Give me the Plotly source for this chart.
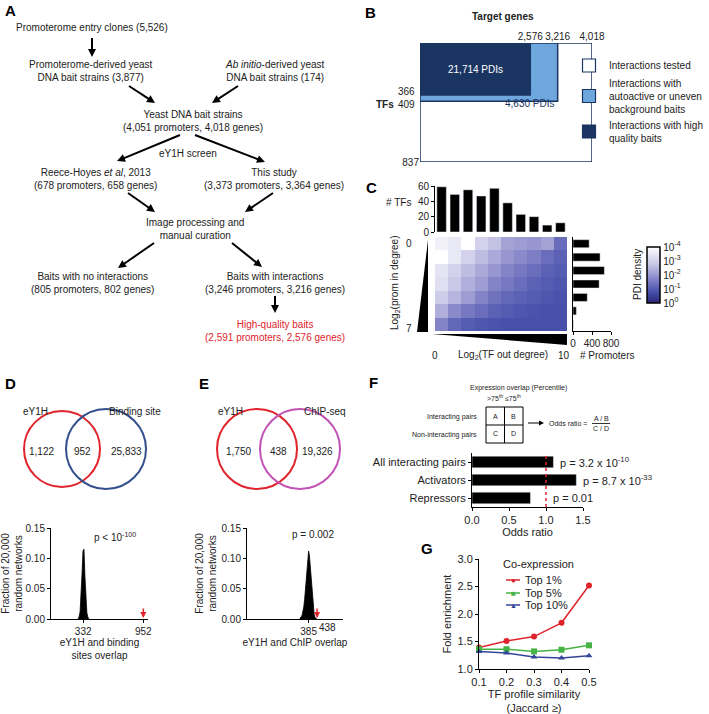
import math
import plotly.graph_objects as go

W, H = 709, 714
FONT = "Liberation Sans, Arial, Helvetica, sans-serif"
TXT = "#222222"
NAVY = "#1b3563"
LIGHTBLUE = "#6ea7dd"
RED = "#e0242b"

# ---------------- DATA ----------------
# Panel B
gene_totals = [2576, 3216, 4018]          # high-quality, with interactions, tested
tf_totals = [366, 409, 837]               # high-quality, with interactions, tested
pdi_counts = [21714, 4630]                # high quality PDIs, other PDIs
legend_b = ["Interactions tested",
            "Interactions with<br>autoactive or uneven<br>background baits",
            "Interactions with high<br>quality baits"]

# Panel C
tf_outdeg_bins = list(range(1, 11))
tf_counts = [59, 49, 55, 47, 57, 38, 23, 20, 9, 12]
prom_indeg_bins = list(range(1, 8))
promoter_counts = [340, 570, 660, 550, 300, 70, 5]
pdi_density_log10 = [
    [-3.7, -3.5, -4.0, -3.0, -2.7, -2.2, -2.1, -2.0, -2.2, -1.3],
    [-4.0, -3.5, -3.0, -2.6, -2.3, -2.0, -1.8, -1.6, -1.3, -1.1],
    [-3.4, -3.0, -2.6, -2.3, -2.0, -1.7, -1.5, -1.3, -1.1, -1.0],
    [-3.3, -2.8, -2.4, -2.1, -1.7, -1.5, -1.3, -1.1, -1.0, -0.9],
    [-2.9, -2.5, -2.1, -1.7, -1.4, -1.2, -1.1, -1.0, -0.9, -0.85],
    [-2.4, -1.8, -1.5, -1.3, -1.1, -1.0, -0.9, -0.85, -0.8, -0.8],
    [-1.7, -1.2, -1.0, -0.9, -0.85, -0.8, -0.8, -0.8, -0.8, -0.8],
]
density_ticks = [0, -1, -2, -3, -4]

# Panel D
d_venn = [1122, 952, 25833]
d_bins = [280, 290, 300, 310, 320, 330, 340, 350, 360, 370, 380, 390]
d_fraction = [0.001, 0.004, 0.012, 0.035, 0.075, 0.112, 0.115, 0.07, 0.03, 0.01, 0.003, 0.001]
d_random_mean = 332
d_observed = 952

# Panel E
e_venn = [1750, 438, 19326]
e_bins = [330, 335, 340, 345, 350, 355, 360, 365, 370, 375, 380, 385, 390, 395, 400,
          405, 410, 415, 420, 425, 430, 435]
e_fraction = [0.001, 0.002, 0.004, 0.007, 0.012, 0.02, 0.032, 0.048, 0.066, 0.085, 0.102,
              0.112, 0.105, 0.088, 0.066, 0.045, 0.028, 0.015, 0.007, 0.003, 0.001, 0.0]
e_random_mean = 385
e_observed = 438

# Panel F
f_categories = ["All interacting pairs", "Activators", "Repressors"]
f_odds = [1.1, 1.41, 0.79]
f_pvals = ["p = 3.2 x 10<sup>-10</sup>", "p = 8.7 x 10<sup>-33</sup>", "p = 0.01"]

# Panel G
g_jaccard = [0.1, 0.2, 0.3, 0.4, 0.5]
g_series = ["Top 1%", "Top 5%", "Top 10%"]
g_top1 = [1.39, 1.51, 1.59, 1.84, 2.52]
g_top5 = [1.36, 1.36, 1.32, 1.35, 1.43]
g_top10 = [1.32, 1.29, 1.22, 1.20, 1.24]


# ---------------- HELPERS ----------------
def X(px):
    return px / W


def Y(py):
    return 1 - py / H


def dx(a, b):
    return [a / W, b / W]


def dy(top, bottom):
    return [1 - bottom / H, 1 - top / H]


annotations = []
shapes = []


def txt(s, x, y, size=10, color=TXT, xanchor="center", yanchor="middle", angle=0, bold=False):
    if bold:
        s = "<b>" + s + "</b>"
    annotations.append(dict(text=s, x=X(x), y=Y(y), xref="paper", yref="paper",
                            xanchor=xanchor, yanchor=yanchor, showarrow=False,
                            textangle=angle, font=dict(size=size, color=color, family=FONT)))


def arrow(x0, y0, x1, y1, width=2.0, color="black", L=8.0, hw=4.0):
    d = math.hypot(x1 - x0, y1 - y0)
    ux, uy = (x1 - x0) / d, (y1 - y0) / d
    nx, ny = -uy, ux
    bx, by = x1 - L * ux, y1 - L * uy
    shapes.append(dict(type="line", xref="paper", yref="paper",
                       x0=X(x0), y0=Y(y0), x1=X(bx + ux), y1=Y(by + uy),
                       line=dict(color=color, width=width)))
    shapes.append(dict(type="path", xref="paper", yref="paper", fillcolor=color,
                       line=dict(width=0),
                       path=(f"M {X(x1)},{Y(y1)} L {X(bx + nx * hw)},{Y(by + ny * hw)} "
                             f"L {X(bx - nx * hw)},{Y(by - ny * hw)} Z")))


def line(x0, y0, x1, y1, color="black", width=1.0, dash="solid"):
    shapes.append(dict(type="line", xref="paper", yref="paper", x0=X(x0), y0=Y(y0),
                       x1=X(x1), y1=Y(y1), line=dict(color=color, width=width, dash=dash)))


def fmt(v):
    return f"{v:,}"


axis_base = dict(showgrid=False, zeroline=False, automargin=False, linecolor="black",
                 linewidth=1, ticks="outside", ticklen=3, tickwidth=1, tickcolor="black",
                 tickfont=dict(size=10, family=FONT, color=TXT), showline=True, tickangle=0)


def ax(**kw):
    d = dict(axis_base)
    d.update(kw)
    return d


fig = go.Figure()

# ---------------- PANEL LABELS ----------------
for lab, x, y in [("A", 10, 11), ("B", 370, 12), ("C", 371, 188), ("D", 10, 383),
                  ("E", 204, 383), ("F", 374, 382), ("G", 427, 548)]:
    txt(lab, x, y, size=15, color="black", bold=True)

# ---------------- PANEL A (flowchart) ----------------
txt("Promoterome entry clones (5,526)", 92, 28)
txt("Promoterome-derived yeast<br>DNA bait strains (3,877)", 91, 71)
txt("<i>Ab initio</i>-derived yeast<br>DNA bait strains (174)", 275, 71)
txt("Yeast DNA bait strains<br>(4,051 promoters, 4,018 genes)", 193, 121)
txt("eY1H screen", 188, 153)
txt("Reece-Hoyes <i>et al</i>, 2013<br>(678 promoters, 658 genes)", 95, 178.5)
txt("This study<br>(3,373 promoters, 3,364 genes)", 274, 178.5)
txt("Image processing and<br>manual curation", 195, 229)
txt("Baits with no interactions<br>(805 promoters, 802 genes)", 92, 283)
txt("Baits with interactions<br>(3,246 promoters, 3,216 genes)", 275, 283)
txt("High-quality baits<br>(2,591 promoters, 2,576 genes)", 275, 331, color=RED)

for a in [(92, 38, 92, 57), (129, 86, 155, 103), (238, 86, 212, 103), (180, 135, 117, 161),
          (195, 135, 265, 162), (128, 193, 155, 212), (273, 193, 245, 212),
          (154, 243, 118, 268), (232, 243, 262, 267), (275, 296, 275, 313)]:
    arrow(*a)

# ---------------- PANEL B ----------------
hq_g, int_g, tot_g = gene_totals
hq_t, int_t, tot_t = tf_totals
for gx, ty, fc in [(tot_g, tot_t, "white"), (int_g, int_t, LIGHTBLUE), (hq_g, hq_t, NAVY)]:
    fig.add_trace(go.Scatter(x=[0, gx, gx, 0, 0], y=[0, 0, ty, ty, 0], mode="lines",
                             fill="toself", fillcolor=fc, line=dict(color=NAVY, width=1.5),
                             hoverinfo="skip", showlegend=False, xaxis="x", yaxis="y"))
for name, fc in zip(legend_b, ["white", LIGHTBLUE, NAVY]):
    fig.add_trace(go.Scatter(x=[None], y=[None], mode="markers", name=name,
                             marker=dict(symbol="square", size=13, color=fc,
                                         line=dict(color=NAVY, width=1.2)),
                             xaxis="x", yaxis="y", legend="legend"))
annotations.append(dict(text=fmt(pdi_counts[0]) + " PDIs", x=hq_g / 2, y=hq_t / 2,
                        xref="x", yref="y", showarrow=False,
                        font=dict(size=10, color="white", family=FONT)))
annotations.append(dict(text=fmt(pdi_counts[1]) + " PDIs", x=int_g, y=hq_t,
                        xref="x", yref="y", showarrow=False, xanchor="right", xshift=-2,
                        yanchor="top", yshift=-1, font=dict(size=10, color=NAVY, family=FONT)))
for v, sh in [(hq_t, 4), (int_t, -3)]:
    annotations.append(dict(text=str(v), x=X(417), y=v, xref="paper", yref="y",
                            xanchor="right", yanchor="middle", yshift=sh, showarrow=False,
                            font=dict(size=10, color=TXT, family=FONT)))
txt("Target genes", 503, 16, bold=True)
txt("TFs", 385, 104, bold=True)

# ---------------- PANEL C ----------------
fig.add_trace(go.Bar(x=tf_outdeg_bins, y=tf_counts, width=0.72, marker=dict(color="black"),
                     xaxis="x2", yaxis="y2", showlegend=False, hoverinfo="skip"))
fig.add_trace(go.Heatmap(
    z=[[-v for v in row] for row in pdi_density_log10], x=tf_outdeg_bins, y=prom_indeg_bins,
    zmin=0, zmax=4,
    colorscale=[[0, "#2a2578"], [0.2, "#4750aa"], [0.45, "#8a8acb"], [0.7, "#cac8e7"],
                [1, "#ffffff"]],
    xaxis="x3", yaxis="y3", hoverinfo="skip",
    colorbar=dict(thickness=13, thicknessmode="pixels", len=56, lenmode="pixels",
                  x=X(647), xanchor="left", y=Y(275), yanchor="middle", xpad=0, ypad=0,
                  outlinewidth=1.5, outlinecolor="black",
                  tickvals=[-t for t in density_ticks],
                  ticktext=[f"10<sup>{t}</sup>" for t in density_ticks], ticks="",
                  tickfont=dict(size=10, family=FONT, color=TXT))))
fig.add_trace(go.Bar(x=promoter_counts, y=prom_indeg_bins, orientation="h", width=0.6,
                     marker=dict(color="black"), xaxis="x4", yaxis="y4", showlegend=False,
                     hoverinfo="skip"))
txt("# TFs", 398, 202)
txt("Log<sub>2</sub>(prom in degree)", 395, 283, angle=-90)
txt("0", 409, 243)
txt("7", 409, 329)
txt("0", 435, 355)
txt("Log<sub>2</sub>(TF out degree)", 503, 355)
txt("10", 564, 355)
txt("# Promoters", 607, 355)
txt("PDI density", 637, 275, angle=-90)
shapes.append(dict(type="path", xref="paper", yref="paper", fillcolor="black",
                   line=dict(width=0),
                   path=f"M {X(428)},{Y(240)} L {X(428)},{Y(332)} L {X(417)},{Y(332)} Z"))
shapes.append(dict(type="path", xref="paper", yref="paper", fillcolor="black",
                   line=dict(width=0),
                   path=f"M {X(432)},{Y(334)} L {X(567)},{Y(334)} L {X(567)},{Y(345)} Z"))

# ---------------- PANEL D / E Venn ----------------
for cx, cy, r, col in [(62, 449, 38, RED), (106, 449, 40, "#34508c"),
                       (257, 449, 40, RED), (300, 449, 40, "#c253b4")]:
    shapes.append(dict(type="circle", xref="paper", yref="paper", x0=X(cx - r), x1=X(cx + r),
                       y0=Y(cy + r), y1=Y(cy - r), line=dict(color=col, width=2)))
txt("eY1H", 35, 412)
txt("Binding site", 135, 412)
for v, x in zip(d_venn, [41, 82, 126]):
    txt(fmt(v), x, 451)
txt("eY1H", 230, 412)
txt("ChIP-seq", 325, 412)
for v, x in zip(e_venn, [239, 278, 317]):
    txt(fmt(v), x, 451)

# ---------------- PANEL D / E histograms ----------------
fig.add_trace(go.Scatter(x=d_bins, y=d_fraction, mode="lines", fill="tozeroy",
                         fillcolor="black", line=dict(color="black", width=0.8),
                         xaxis="x5", yaxis="y5", showlegend=False, hoverinfo="skip"))
fig.add_trace(go.Scatter(x=e_bins, y=e_fraction, mode="lines", fill="tozeroy",
                         fillcolor="black", line=dict(color="black", width=0.8),
                         xaxis="x6", yaxis="y6", showlegend=False, hoverinfo="skip"))
for xa, obs in [("x5", d_observed), ("x6", e_observed)]:
    ya = "y" + xa[1:]
    annotations.append(dict(text="", x=obs, y=0, xref=xa, yref=ya, ax=0, ay=-12,
                            showarrow=True, arrowhead=2, arrowsize=0.8, arrowwidth=1.5,
                            arrowcolor=RED, standoff=1))
annotations.append(dict(text=str(e_observed), x=e_observed, y=Y(627), xref="x6",
                        yref="paper", xshift=10, showarrow=False, yanchor="middle",
                        font=dict(size=10, color=TXT, family=FONT)))
txt("p &lt; 10<sup>-100</sup>", 115, 537)
txt("p = 0.002", 313, 534)

# ---------------- PANEL F schematic ----------------
txt("Expression overlap (Percentile)", 518, 388, size=7)
txt("&gt;75<sup>th</sup>", 495, 398, size=7)
txt("≤75<sup>th</sup>", 513, 398, size=7)
shapes.append(dict(type="rect", xref="paper", yref="paper", x0=X(486), x1=X(523),
                   y0=Y(443), y1=Y(407), line=dict(color="black", width=1)))
line(504.5, 407, 504.5, 443)
line(486, 425, 523, 425)
for s, x, y in [("A", 495, 416), ("B", 513, 416), ("C", 495, 434), ("D", 513, 434)]:
    txt(s, x, y, size=7)
txt("Interacting pairs", 479, 417, size=7, xanchor="right")
txt("Non-interacting pairs", 479, 435, size=7, xanchor="right")
arrow(528, 423, 544, 423, width=1, L=5, hw=2.5)
txt("Odds ratio =", 547, 423, size=7, xanchor="left")
txt("A / B", 601, 418.5, size=7)
txt("C / D", 601, 428, size=7)
line(592, 423.5, 610, 423.5, width=0.8)

# ---------------- PANEL F bars ----------------
fig.add_trace(go.Bar(x=f_odds, y=f_categories, orientation="h", width=0.65,
                     marker=dict(color="black"), xaxis="x7", yaxis="y7", showlegend=False,
                     hoverinfo="skip"))
shapes.append(dict(type="line", xref="x7", yref="y7 domain", x0=1, x1=1, y0=0, y1=1,
                   line=dict(color=RED, width=1.5, dash="dot")))
for v, c, p in zip(f_odds, f_categories, f_pvals):
    annotations.append(dict(text=p, x=max(v, 1.0), y=c, xref="x7", yref="y7",
                            xanchor="left", xshift=5, showarrow=False,
                            font=dict(size=11, color=TXT, family=FONT)))

# ---------------- PANEL G ----------------
g_styles = [("#e0242b", "circle", "●", 8), ("#45b445", "square", "■", 8),
            ("#34449a", "triangle-up", "▲", 7)]
for name, ys, (col, sym, glyph, gs) in zip(g_series, [g_top1, g_top5, g_top10], g_styles):
    fig.add_trace(go.Scatter(x=g_jaccard, y=ys, mode="lines+markers", name=name,
                             line=dict(color=col, width=1.5),
                             marker=dict(symbol=sym, size=6, color=col),
                             cliponaxis=False, xaxis="x8", yaxis="y8", showlegend=False,
                             hoverinfo="skip"))
# compact legend (key samples + labels)
txt("Co-expression", 501, 564, size=11, xanchor="left")
for (name, (col, sym, glyph, gs)), yy in zip(zip(g_series, g_styles), [580, 593, 605]):
    line(506, yy, 520, yy, color=col, width=1.5)
    txt(glyph, 513, yy, size=gs, color=col)
    txt(name, 523, yy, size=11, xanchor="left")

# ---------------- LAYOUT ----------------
fig.update_layout(
    width=W, height=H, margin=dict(l=0, r=0, t=0, b=0),
    paper_bgcolor="white", plot_bgcolor="white",
    font=dict(family=FONT, size=10, color=TXT),
    annotations=annotations, shapes=shapes,
    # B
    xaxis=ax(domain=dx(420, 592), range=[0, tot_g], side="top", tickvals=gene_totals,
             ticktext=[fmt(v) for v in gene_totals], ticks="", showline=False, anchor="y"),
    yaxis=ax(domain=dy(43, 162), range=[tot_t, 0], tickvals=[tot_t],
             ticktext=[str(tot_t)], ticks="", showline=False, anchor="x"),
    # C top bars
    xaxis2=ax(domain=dx(435, 567), range=[0.5, 10.5], showticklabels=False, ticks="",
              showline=False, anchor="y2"),
    yaxis2=ax(domain=dy(186, 232), range=[0, 60], tickvals=[0, 20, 40, 60], anchor="x2"),
    # C heatmap
    xaxis3=ax(domain=dx(435, 567), range=[0.5, 10.5], visible=False, anchor="y3"),
    yaxis3=ax(domain=dy(237, 331), range=[7.5, 0.5], visible=False, anchor="x3"),
    # C right bars
    xaxis4=ax(domain=dx(573, 611), range=[0, 800], tickvals=[0, 400, 800], anchor="y4"),
    yaxis4=ax(domain=dy(237, 331), range=[7.5, 0.5], showticklabels=False, ticks="",
              anchor="x4"),
    # D hist
    xaxis5=ax(domain=dx(51, 148), range=[0, 1000], tickvals=[d_random_mean, d_observed],
              anchor="y5",
              title=dict(text="eY1H and binding<br>sites overlap", standoff=2,
                         font=dict(size=10, family=FONT, color=TXT))),
    yaxis5=ax(domain=dy(528, 619), range=[0, 0.15], tickvals=[0, 0.05, 0.10, 0.15],
              tickformat=".2f", anchor="x5",
              title=dict(text="Fraction of 20,000<br>random networks", standoff=3,
                         font=dict(size=10, family=FONT, color=TXT))),
    # E hist
    xaxis6=ax(domain=dx(247, 343), range=[0, 600], tickvals=[e_random_mean], anchor="y6",
              title=dict(text="eY1H and ChIP overlap", standoff=2,
                         font=dict(size=10, family=FONT, color=TXT))),
    yaxis6=ax(domain=dy(528, 619), range=[0, 0.15], tickvals=[0, 0.05, 0.10, 0.15],
              tickformat=".2f", anchor="x6",
              title=dict(text="Fraction of 20,000<br>random networks", standoff=3,
                         font=dict(size=10, family=FONT, color=TXT))),
    # F bars
    xaxis7=ax(domain=dx(472, 583), range=[0, 1.5], tickvals=[0, 0.5, 1.0, 1.5],
              tickformat=".1f", anchor="y7", tickfont=dict(size=11, family=FONT, color=TXT),
              title=dict(text="Odds ratio", standoff=2,
                         font=dict(size=11, family=FONT, color=TXT))),
    yaxis7=ax(domain=dy(453, 507), type="category", categoryorder="array",
              categoryarray=f_categories[::-1], anchor="x7",
              tickfont=dict(size=11, family=FONT, color=TXT)),
    # G
    xaxis8=ax(domain=dx(479, 589), range=[0.1, 0.5], tickvals=g_jaccard, tickformat=".1f",
              anchor="y8", tickfont=dict(size=11, family=FONT, color=TXT),
              title=dict(text="TF profile similarity<br>(Jaccard ≥)", standoff=4,
                         font=dict(size=11, family=FONT, color=TXT))),
    yaxis8=ax(domain=dy(559, 669), range=[1.0, 3.0], tickvals=[1.0, 1.5, 2.0, 2.5, 3.0],
              tickformat=".1f", anchor="x8", tickfont=dict(size=11, family=FONT, color=TXT),
              title=dict(text="Fold enrichment", standoff=3,
                         font=dict(size=11, family=FONT, color=TXT))),
    legend=dict(x=X(569), y=Y(51), xanchor="left", yanchor="top", bgcolor="rgba(0,0,0,0)",
                font=dict(size=10, family=FONT, color=TXT), tracegroupgap=0,
                itemclick=False, itemdoubleclick=False),
    showlegend=True,
)

fig.write_html("out.html", config={"displayModeBar": False, "staticPlot": True},
               post_script="document.body.style.margin='0px';document.body.style.padding='0px';")
